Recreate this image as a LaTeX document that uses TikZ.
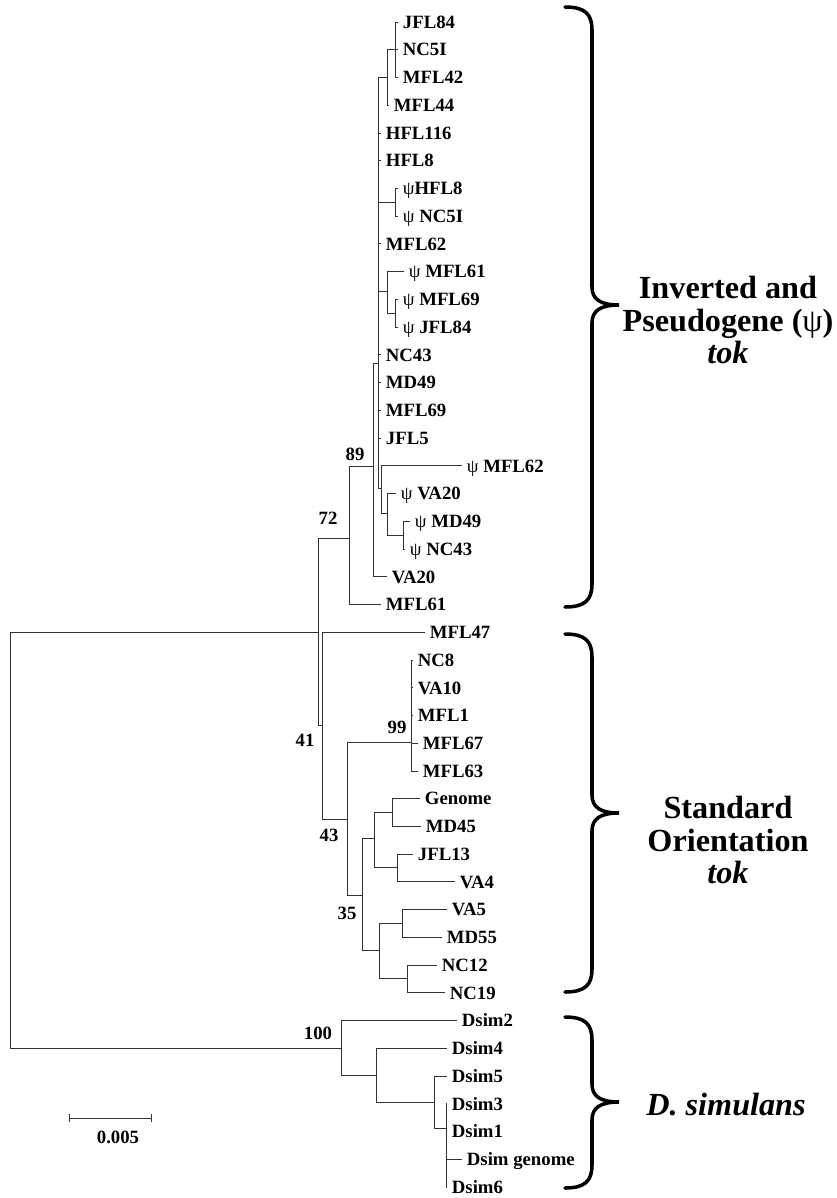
\documentclass[tikz,border=0pt]{standalone}
\usepackage{fontspec}
\setmainfont{Liberation Serif}
\usetikzlibrary{arrows.meta}

\tikzset{
  branch/.style={draw=black!80, line width=0.8pt},
  taxon/.style={anchor=west, inner xsep=4pt, inner ysep=0pt, text height=10.6pt, text depth=0pt,
    font=\fontsize{16}{16}\selectfont\bfseries},
  boot/.style={inner sep=0pt, font=\fontsize{16}{16}\selectfont\bfseries},
  cladebrace/.style={line width=3pt, line cap=round},
  group/.style={align=center, inner sep=0pt, font=\fontsize{27.5}{27.5}\selectfont\bfseries},
}
\newcommand{\psig}{{\mdseries ψ}}
% curly bracket: top, tip, bottom
\newcommand{\groupbrace}[3]{%
  \draw[cladebrace] (565,#1) .. controls (585,#1) and (592,{#1+7}) .. (592,{#1+23})
    -- (592,{#2-18}) .. controls (592,{#2-6}) and (600,#2) .. (619,#2)
    .. controls (600,#2) and (592,{#2+6}) .. (592,{#2+18})
    -- (592,{#3-23}) .. controls (592,{#3-7}) and (585,#3) .. (565,#3);}

\begin{document}
\begin{tikzpicture}[x=0.03cm, y=-0.03cm]
\useasboundingbox (0,0) rectangle (837,1198);

% internal nodes
\coordinate (r) at (10,840);
\coordinate (n41) at (318,632);
\coordinate (n72) at (349,538);
\coordinate (n89) at (373,466);
\coordinate (nB) at (378,363);
\coordinate (nJ) at (387,77.5);
\coordinate (nJ2) at (395,49.7);
\coordinate (nP1) at (395,202);
\coordinate (nP2) at (387,291);
\coordinate (nP2b) at (395,313);
\coordinate (nP3) at (381,488);
\coordinate (nP4) at (387,513);
\coordinate (nP5) at (403,535);
\coordinate (nX) at (322,725);
\coordinate (n43) at (347,819);
\coordinate (n99) at (411,742);
\coordinate (n35) at (362,895);
\coordinate (nG) at (374,838);
\coordinate (nGen) at (392,812);
\coordinate (nJ13) at (397,867);
\coordinate (nV) at (379,950);
\coordinate (nV5) at (402,923);
\coordinate (nN) at (407,978);
\coordinate (nD) at (341,1048);
\coordinate (nD4) at (376,1075);
\coordinate (nD5) at (434,1102);
\coordinate (nD3) at (446,1128);

% taxa
\node[taxon] (jfl84) at (398,22) {JFL84};
\node[taxon] (nc5i) at (398,49.7) {NC5I};
\node[taxon] (mfl42) at (398,77.5) {MFL42};
\node[taxon] (mfl44) at (389,105.2) {MFL44};
\node[taxon] (hfl116) at (381,133) {HFL116};
\node[taxon] (hfl8) at (381,160.7) {HFL8};
\node[taxon] (phfl8) at (398,188.4) {\psig HFL8};
\node[taxon] (pnc5i) at (398,216.2) {\psig\ NC5I};
\node[taxon] (mfl62) at (381,243.9) {MFL62};
\node[taxon] (pmfl61) at (404,271.7) {\psig\ MFL61};
\node[taxon] (pmfl69) at (398,299.4) {\psig\ MFL69};
\node[taxon] (pjfl84) at (398,327.1) {\psig\ JFL84};
\node[taxon] (nc43) at (381,354.9) {NC43};
\node[taxon] (md49) at (381,382.6) {MD49};
\node[taxon] (mfl69) at (381,410.4) {MFL69};
\node[taxon] (jfl5) at (381,438.1) {JFL5};
\node[taxon] (pmfl62) at (462,465.8) {\psig\ MFL62};
\node[taxon] (pva20) at (396,493.6) {\psig\ VA20};
\node[taxon] (pmd49) at (410,521.3) {\psig\ MD49};
\node[taxon] (pnc43) at (405,549.1) {\psig\ NC43};
\node[taxon] (va20) at (387,576.8) {VA20};
\node[taxon] (mfl61) at (381,604.5) {MFL61};
\node[taxon] (mfl47) at (425,632.3) {MFL47};
\node[taxon] (nc8) at (413,660) {NC8};
\node[taxon] (va10) at (413,687.8) {VA10};
\node[taxon] (mfl1) at (413,715.5) {MFL1};
\node[taxon] (mfl67) at (418,743.2) {MFL67};
\node[taxon] (mfl63) at (418,771) {MFL63};
\node[taxon] (genome) at (420,798.7) {Genome};
\node[taxon] (md45) at (421,826.5) {MD45};
\node[taxon] (jfl13) at (413,854.2) {JFL13};
\node[taxon] (va4) at (455,881.9) {VA4};
\node[taxon] (va5) at (447,909.7) {VA5};
\node[taxon] (md55) at (442,937.4) {MD55};
\node[taxon] (nc12) at (437,965.2) {NC12};
\node[taxon] (nc19) at (445,992.9) {NC19};
\node[taxon] (dsim2) at (457,1020.6) {Dsim2};
\node[taxon] (dsim4) at (447,1048.4) {Dsim4};
\node[taxon] (dsim5) at (447,1076.1) {Dsim5};
\node[taxon] (dsim3) at (447,1103.9) {Dsim3};
\node[taxon] (dsim1) at (447,1131.6) {Dsim1};
\node[taxon] (dsimg) at (462,1159.3) {Dsim genome};
\node[taxon] (dsim6) at (447,1187) {Dsim6};

% branches
\foreach \p/\c in {r/n41, r/nD, n41/n72, n41/nX, n72/n89, n89/nB, nB/nJ, nJ/nJ2,
    nB/nP1, nB/nP2, nP2/nP2b, nB/nP3, nP3/nP4, nP4/nP5, nX/n43, n43/n99, n43/n35,
    n35/nG, nG/nGen, nG/nJ13, n35/nV, nV/nV5, nV/nN, nD/nD4, nD4/nD5, nD5/nD3}
  \draw[branch] (\p) |- (\c);
\foreach \p/\c in {nJ2/jfl84, nJ2/nc5i, nJ2/mfl42, nJ/mfl44, nB/hfl116, nB/hfl8,
    nP1/phfl8, nP1/pnc5i, nB/mfl62, nP2/pmfl61, nP2b/pmfl69, nP2b/pjfl84, nB/nc43,
    nB/md49, nB/mfl69, nB/jfl5, nP3/pmfl62, nP4/pva20, nP5/pmd49, nP5/pnc43,
    n89/va20, n72/mfl61, nX/mfl47, n99/nc8, n99/va10, n99/mfl1, n99/mfl67, n99/mfl63,
    nGen/genome, nGen/md45, nJ13/jfl13, nJ13/va4, nV5/va5, nV5/md55, nN/nc12, nN/nc19,
    nD/dsim2, nD4/dsim4, nD5/dsim5, nD3/dsim3, nD3/dsim1, nD3/dsimg, nD3/dsim6}
  \draw[branch] (\p) |- (\c.west);

% bootstrap values
\node[boot] (b89) at (355,454) {89};
\node[boot] (b72) at (328,518) {72};
\node[boot] (b41) at (305,740) {41};
\node[boot] (b99) at (397,727) {99};
\node[boot] (b43) at (329,835) {43};
\node[boot] (b35) at (347,913) {35};
\node[boot] (b100) at (318,1033) {100};

% scale bar
\coordinate (sb1) at (69,1118);
\coordinate (sb2) at (152,1118);
\draw[branch, {Bar[width=7.5pt]}-{Bar[width=7.5pt]}] (sb1) -- (sb2);
\node[boot] (sblabel) at (118,1137) {0.005};

% clade braces
\groupbrace{7}{305}{607}
\groupbrace{634}{813}{992}
\groupbrace{1017}{1102}{1188}

\node[group] (inverted) at (728,320) {Inverted and\\Pseudogene (\psig)\\\textit{tok}};
\node[group] (standard) at (728,840) {Standard\\Orientation\\\textit{tok}};
\node[group] (simulans) at (726,1105) {\textit{D. simulans}};
\end{tikzpicture}
\end{document}
